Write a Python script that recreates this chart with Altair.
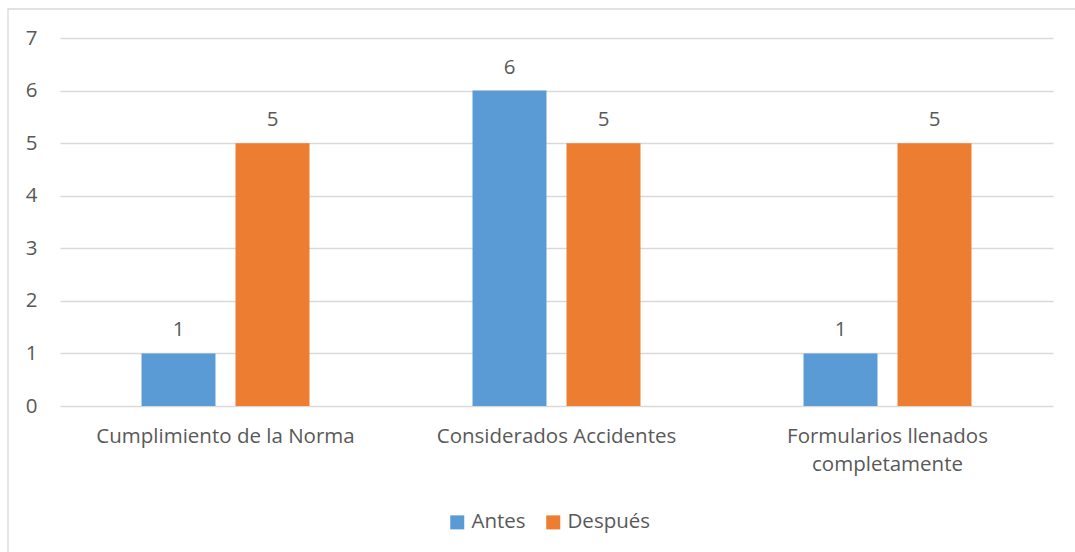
import altair as alt
import pandas as pd

# Chart values
categories = [
    "Cumplimiento de la Norma",
    "Considerados Accidentes",
    "Formularios llenados completamente",
]
series = ["Antes", "Después"]
antes = [1, 6, 1]
despues = [5, 5, 5]
y_ticks = [0, 1, 2, 3, 4, 5, 6, 7]
colors = ["#5B9BD5", "#ED7D31"]

rows = []
for cat, a, d in zip(categories, antes, despues):
    rows.append({"categoria": cat, "serie": series[0], "valor": a})
    rows.append({"categoria": cat, "serie": series[1], "valor": d})
df = pd.DataFrame(rows)

FONT = "Open Sans"
FS = 20.5
TEXT = "#595959"
GRID = "#D9D9D9"
W, H = 993, 368

x_enc = alt.X(
    "categoria:N",
    sort=categories,
    scale=alt.Scale(paddingInner=0, paddingOuter=0),
    axis=alt.Axis(
        title=None,
        labelAngle=0,
        ticks=False,
        domain=False,
        labelPadding=20,
        labelFontSize=FS,
        labelColor=TEXT,
        labelFont=FONT,
        labelLineHeight=28,
        labelLimit=400,
        labelExpr="datum.label == 'Formularios llenados completamente' ? ['Formularios llenados', 'completamente'] : datum.label",
    ),
)
xoff_enc = alt.XOffset(
    "serie:N",
    sort=series,
    scale=alt.Scale(paddingInner=0.213, paddingOuter=0.867),
)
y_enc = alt.Y(
    "valor:Q",
    scale=alt.Scale(domain=[0, 7], nice=False),
    axis=alt.Axis(
        title=None,
        values=y_ticks,
        ticks=False,
        domain=False,
        grid=True,
        gridColor=GRID,
        gridWidth=1.3,
        labelPadding=23,
        labelFontSize=FS,
        labelColor=TEXT,
        labelFont=FONT,
    ),
)

bars = alt.Chart(df).mark_bar().encode(
    x=x_enc,
    xOffset=xoff_enc,
    y=y_enc,
    color=alt.Color(
        "serie:N",
        sort=series,
        scale=alt.Scale(domain=series, range=colors),
        legend=alt.Legend(
            orient="none",
            legendX=387,
            legendY=474,
            direction="horizontal",
            title=None,
            symbolType="square",
            symbolSize=196,
            symbolStrokeWidth=0,
            labelFontSize=FS,
            labelColor=TEXT,
            labelFont=FONT,
            labelOffset=4,
            columnPadding=17,
            padding=0,
        ),
    ),
)

labels = alt.Chart(df).mark_text(
    baseline="alphabetic", dy=-17, fontSize=FS, font=FONT, color=TEXT
).encode(
    x=x_enc,
    xOffset=xoff_enc,
    y=y_enc,
    text=alt.Text("valor:Q"),
)

# Light frame around the whole chart
frame = alt.Chart(pd.DataFrame({"k": [0]})).mark_rect(
    fill=None, stroke=GRID, strokeWidth=1.3
).encode(
    x=alt.value(-52), x2=alt.value(1030),
    y=alt.value(-29), y2=alt.value(530),
)

chart = alt.layer(frame, bars, labels).properties(
    width=W,
    height=H,
    autosize=alt.AutoSizeParams(type="none"),
    padding={"left": 60, "top": 38, "right": 22, "bottom": 146},
    background="white",
).configure_view(stroke=None)

chart.save("out.html", embed_options={"renderer": "svg", "actions": False})
